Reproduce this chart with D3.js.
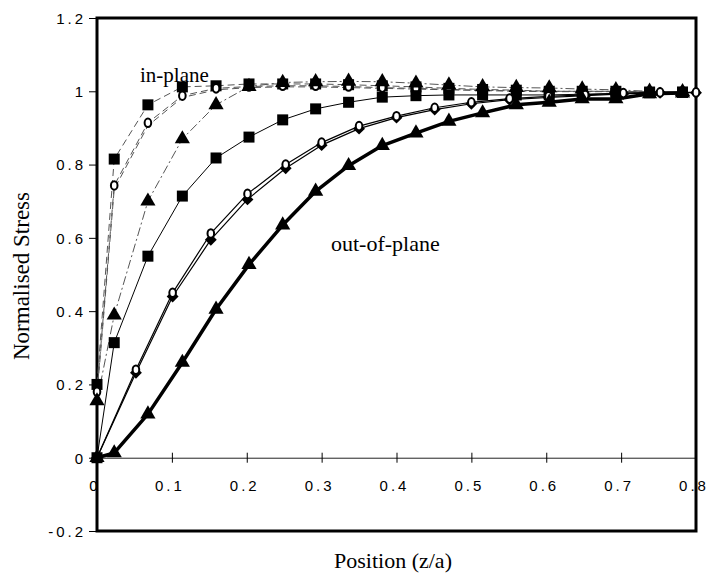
<!DOCTYPE html>
<html>
<head>
<meta charset="utf-8">
<script src="https://cdn.jsdelivr.net/npm/d3@7"></script>
<style>
  html, body { margin: 0; padding: 0; background: #fff; }
  svg { display: block; }
  .tick text { font-family: "Liberation Sans", Arial, sans-serif; font-size: 15px; letter-spacing: 3px; fill: #000; }
  .title { font-family: "Liberation Serif", "Times New Roman", serif; font-size: 21px; fill: #000; }
</style>
</head>
<body>
<svg id="chart" width="709" height="574"></svg>
<script>
// Node positions along the thickness direction (mesh A and mesh B)
const xA = [0, 0.023, 0.068, 0.114, 0.159, 0.203, 0.248, 0.292, 0.336, 0.381,
            0.426, 0.470, 0.515, 0.560, 0.604, 0.648, 0.693, 0.738, 0.782];
const xB = [0, 0.052, 0.101, 0.152, 0.201, 0.252, 0.300, 0.350, 0.400, 0.451,
            0.500, 0.551, 0.603, 0.652, 0.703, 0.752, 0.800];

// In-plane normalised stress
const inPlaneSquares   = [0.200, 0.815, 0.963, 1.012, 1.015, 1.020, 1.020, 1.020, 1.018, 1.015,
                          1.012, 1.008, 1.005, 1.003, 1.000, 1.000, 1.000, 0.998, 0.998];
const inPlaneCircles   = [0.180, 0.743, 0.914, 0.988, 1.008, 1.013, 1.015, 1.015, 1.013, 1.010,
                          1.008, 1.005, 1.003, 1.001, 1.000, 1.000, 1.000, 0.999, 0.999];
const inPlaneTwin      = [0.170, 0.733, 0.906, 0.983, 1.004, 1.010, 1.012, 1.012, 1.010, 1.008,
                          1.006, 1.004, 1.002, 1.000, 0.999, 0.999, 0.999, 0.998, 0.998];
const inPlaneTriangles = [0.155, 0.389, 0.700, 0.870, 0.963, 1.013, 1.024, 1.026, 1.027, 1.026,
                          1.022, 1.017, 1.012, 1.010, 1.009, 1.006, 1.004, 1.000, 0.999];

// Out-of-plane normalised stress
const outSquares   = [0, 0.314, 0.550, 0.714, 0.818, 0.875, 0.922, 0.952, 0.970, 0.984,
                      0.988, 0.990, 0.990, 0.990, 0.990, 0.992, 0.994, 0.996, 0.997];
const outTriangles = [0, 0.013, 0.119, 0.260, 0.405, 0.527, 0.635, 0.727, 0.797, 0.852,
                      0.886, 0.918, 0.941, 0.963, 0.970, 0.979, 0.979, 0.993, 0.995];
const outDiamonds  = [0, 0.232, 0.440, 0.595, 0.705, 0.790, 0.853, 0.898, 0.928, 0.950,
                      0.966, 0.977, 0.983, 0.988, 0.993, 0.996, 0.996];
const outCircles   = [0, 0.240, 0.450, 0.612, 0.720, 0.800, 0.860, 0.905, 0.932, 0.955,
                      0.970, 0.980, 0.986, 0.990, 0.995, 0.997, 0.997];

// Axis ticks
const xTicks = [0, 0.1, 0.2, 0.3, 0.4, 0.5, 0.6, 0.7, 0.8];
const xTickLabels = ["0", "0.1", "0.2", "0.3", "0.4", "0.5", "0.6", "0.7", "0.8"];
const yTicks = [-0.2, 0, 0.2, 0.4, 0.6, 0.8, 1, 1.2];
const yTickLabels = ["-0.2", "0", "0.2", "0.4", "0.6", "0.8", "1", "1.2"];

const svg = d3.select("#chart");
const plotLeft = 97, plotRight = 696, plotTop = 18, plotBottom = 531;

const x = d3.scaleLinear().domain([0, 0.8]).range([plotLeft, plotRight]);
const y = d3.scaleLinear().domain([-0.2, 1.2]).range([plotBottom, plotTop]);

// Y axis (ticks outside the frame)
const yAxis = d3.axisLeft(y)
  .tickValues(yTicks)
  .tickFormat((d, i) => yTickLabels[i])
  .tickSizeInner(8).tickSizeOuter(0).tickPadding(6);
const gy = svg.append("g").attr("transform", `translate(${plotLeft},0)`).call(yAxis);
gy.select(".domain").remove();
gy.selectAll(".tick line").attr("stroke", "#000").attr("stroke-width", 1);
gy.selectAll(".tick text").attr("dx", "3px").attr("dy", "0.36em");

// X axis along the zero line, ticks crossing it
const xAxis = d3.axisBottom(x)
  .tickValues(xTicks)
  .tickFormat((d, i) => xTickLabels[i])
  .tickSizeInner(5).tickSizeOuter(0).tickPadding(18);
const gx = svg.append("g").attr("transform", `translate(0,${y(0)})`).call(xAxis);
gx.select(".domain").attr("stroke", "#222").attr("stroke-width", 1);
gx.selectAll(".tick line").attr("y1", -5).attr("stroke", "#000").attr("stroke-width", 1);
gx.selectAll(".tick text").attr("dx", "-2.5px");

// Plot frame
svg.append("rect")
  .attr("x", plotLeft).attr("y", plotTop)
  .attr("width", plotRight - plotLeft).attr("height", plotBottom - plotTop)
  .attr("fill", "none").attr("stroke", "#000").attr("stroke-width", 3);

// Series definitions
const series = [
  { xs: xA, ys: inPlaneSquares,   width: 1,   dash: "7,4",     color: "#555", marker: "square" },
  { xs: xA, ys: inPlaneTwin,      width: 1,   dash: "7,4",     color: "#555", marker: null },
  { xs: xA, ys: inPlaneCircles,   width: 1,   dash: "7,4",     color: "#555", marker: "circle" },
  { xs: xA, ys: inPlaneTriangles, width: 1,   dash: "9,3,2,3", color: "#555", marker: "triangle" },
  { xs: xA, ys: outSquares,       width: 1,   dash: null,      color: "#000", marker: "square" },
  { xs: xB, ys: outDiamonds,      width: 1.2, dash: null,      color: "#000", marker: "diamond" },
  { xs: xB, ys: outCircles,       width: 1.2, dash: null,      color: "#000", marker: "circle" },
  { xs: xA, ys: outTriangles,     width: 3.5, dash: null,      color: "#000", marker: "triangle" }
];

const line = d3.line().x(d => x(d[0])).y(d => y(d[1]));

const symbols = {
  square:   d3.symbol().type(d3.symbolSquare).size(121),
  triangle: d3.symbol().type(d3.symbolTriangle).size(100),
  diamond:  d3.symbol().type(d3.symbolDiamond2).size(90)
};

const gLines = svg.append("g");
series.forEach(s => {
  const pts = s.xs.map((v, i) => [v, s.ys[i]]);
  gLines.append("path")
    .attr("d", line(pts))
    .attr("fill", "none")
    .attr("stroke", s.color)
    .attr("stroke-width", s.width)
    .attr("stroke-dasharray", s.dash)
    .attr("stroke-linejoin", "round");
});

const gMarks = svg.append("g");
series.forEach(s => {
  if (!s.marker) return;
  const pts = s.xs.map((v, i) => [v, s.ys[i]]);
  if (s.marker === "circle") {
    gMarks.selectAll(null).data(pts).enter().append("ellipse")
      .attr("cx", d => x(d[0])).attr("cy", d => y(d[1]))
      .attr("rx", 3.3).attr("ry", 4.3)
      .attr("fill", "#fff").attr("stroke", "#000").attr("stroke-width", 2);
  } else {
    gMarks.selectAll(null).data(pts).enter().append("path")
      .attr("transform", d => `translate(${x(d[0])},${y(d[1])})`)
      .attr("d", symbols[s.marker]())
      .attr("fill", "#000");
  }
});

// Annotations and axis titles
svg.append("text").attr("class", "title").attr("x", 140).attr("y", 82).text("in-plane");
svg.append("text").attr("class", "title").attr("x", 331).attr("y", 251)
  .style("font-size", "22px").text("out-of-plane");

svg.append("text").attr("class", "title")
  .attr("text-anchor", "middle")
  .attr("transform", "translate(29,276) rotate(-90)")
  .style("font-size", "23px")
  .text("Normalised Stress");

svg.append("text").attr("class", "title")
  .attr("text-anchor", "middle")
  .attr("x", 393).attr("y", 568)
  .style("font-size", "22px")
  .text("Position (z/a)");
</script>
</body>
</html>
